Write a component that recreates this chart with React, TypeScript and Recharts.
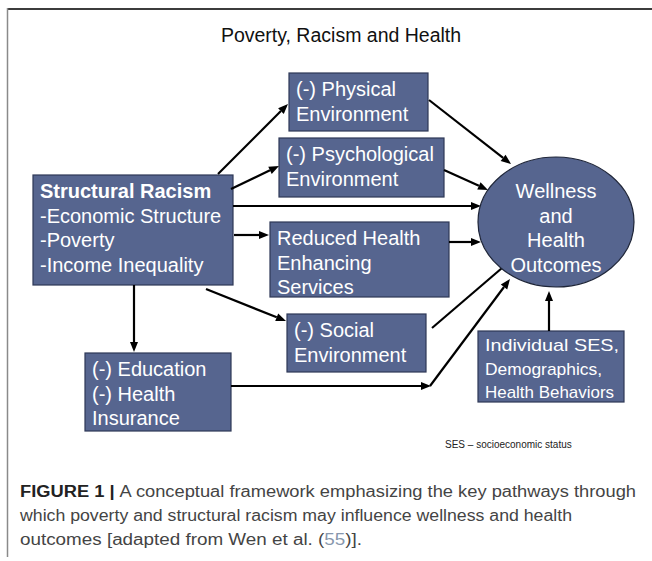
import React from "react";
import {
  ScatterChart,
  Scatter,
  XAxis,
  YAxis,
  ReferenceArea,
  ReferenceLine,
} from "recharts";

const W = 652;
const H = 561;

// box labels (white text on slate blue boxes)
const boxIds = ["physical", "psych", "racism", "services", "social", "education", "individual"];
const boxLines = [
  ["(-) Physical", "Environment"],
  ["(-) Psychological", "Environment"],
  ["Structural Racism", "-Economic Structure", "-Poverty", "-Income Inequality"],
  ["Reduced Health", "Enhancing", "Services"],
  ["(-) Social", "Environment"],
  ["(-) Education", "(-) Health", "Insurance"],
  ["Individual SES,", "Demographics,", "Health Behaviors"],
];
// box corners in diagram units [x1, x2, y1, y2]
const boxCorners = [
  [289, 428, 73, 131],
  [279, 444, 138, 197],
  [33, 233, 175, 285],
  [270, 449, 222, 297],
  [287, 426, 314, 372],
  [85, 231, 353, 431],
  [478, 624, 331, 402],
];
// the small-print box is set in a slightly different face; fit its line widths
const individualWidths = [134, 117, 129];

const outcomeLines = ["Wellness", "and", "Health", "Outcomes"];
const outcomeCenter = [{ x: 556, y: 222 }];

// arrows: [fromX, fromY, toX, toY, head]
const arrows = [
  [218, 174, 288, 104, 1],
  [231, 189, 279, 166, 1],
  [233, 206, 481, 206, 1],
  [234, 235, 269, 235, 1],
  [206, 289, 286, 321, 1],
  [134, 285, 134, 352, 1],
  [429, 100, 511, 164, 1],
  [444, 170, 488, 190, 1],
  [449, 242, 481, 242, 1],
  [432, 328, 502, 268, 0],
  [231, 386, 431, 386, 1],
  [430, 386, 510, 279, 1],
  [549, 331, 549, 291, 1],
];

const captionLines = [
  "A conceptual framework emphasizing the key pathways through",
  "which poverty and structural racism may influence wellness and health",
  "outcomes [adapted from Wen et al. (",
];

const BOX_FILL = "#56658f";
const BOX_STROKE = "#2e3856";
const FONT = "'Liberation Sans', Arial, sans-serif";

function boxShape(lines: string[], idx: number) {
  const big = idx !== 6;
  const fs = big ? 20 : 17;
  const lh = big ? 24.5 : 23.5;
  return (p: any) => (
    <g>
      <rect
        x={p.x}
        y={p.y}
        width={p.width}
        height={p.height}
        fill={BOX_FILL}
        stroke={BOX_STROKE}
        strokeWidth={1.2}
      />
      {lines.map((t, i) => (
        <text
          key={i}
          x={p.x + 7}
          y={p.y + fs + 3 + i * lh}
          fill="#fff"
          fontSize={fs}
          fontFamily={FONT}
          fontWeight={idx === 2 && i === 0 ? "bold" : "normal"}
          textLength={big ? undefined : individualWidths[i]}
          lengthAdjust={big ? undefined : "spacingAndGlyphs"}
        >
          {t}
        </text>
      ))}
    </g>
  );
}

function arrowShape(head: number) {
  return (p: any) => {
    const { x1, y1, x2, y2 } = p;
    const a = Math.atan2(y2 - y1, x2 - x1);
    const L = 10;
    const hw = 4;
    const bx = x2 - L * Math.cos(a);
    const by = y2 - L * Math.sin(a);
    const nx = -Math.sin(a);
    const ny = Math.cos(a);
    return (
      <g>
        <line
          x1={x1}
          y1={y1}
          x2={head ? bx : x2}
          y2={head ? by : y2}
          stroke="#000"
          strokeWidth={2.2}
        />
        {head ? (
          <polygon
            points={`${x2},${y2} ${bx + nx * hw},${by + ny * hw} ${bx - nx * hw},${by - ny * hw}`}
            fill="#000"
          />
        ) : null}
      </g>
    );
  };
}

function OutcomeShape(p: any) {
  const { cx, cy } = p;
  return (
    <g>
      <ellipse cx={cx} cy={cy} rx={78} ry={65} fill={BOX_FILL} stroke="#1e2538" strokeWidth={1.2} />
      {outcomeLines.map((t, i) => (
        <text
          key={i}
          x={cx}
          y={cy - 24 + i * 24.7}
          textAnchor="middle"
          fill="#fff"
          fontSize={20}
          fontFamily={FONT}
        >
          {t}
        </text>
      ))}
    </g>
  );
}

export default function App() {
  return (
    <div style={{ position: "absolute", left: 0, top: 0, width: W, height: H, background: "#fff" }}>
      <ScatterChart width={W} height={H} margin={{ top: 0, right: 0, bottom: 0, left: 0 }}>
        <XAxis type="number" dataKey="x" domain={[0, W]} hide allowDataOverflow />
        <YAxis type="number" dataKey="y" domain={[0, H]} reversed hide allowDataOverflow />
        {boxCorners.map((c, i) => (
          <ReferenceArea
            key={boxIds[i]}
            x1={c[0]}
            x2={c[1]}
            y1={c[2]}
            y2={c[3]}
            ifOverflow="visible"
            shape={boxShape(boxLines[i], i)}
          />
        ))}
        {arrows.map((a, i) => (
          <ReferenceLine
            key={i}
            segment={[
              { x: a[0], y: a[1] },
              { x: a[2], y: a[3] },
            ]}
            ifOverflow="visible"
            shape={arrowShape(a[4])}
          />
        ))}
        <Scatter data={outcomeCenter} shape={OutcomeShape} isAnimationActive={false} />
      </ScatterChart>
      <svg
        width={W}
        height={H}
        style={{ position: "absolute", left: 0, top: 0, pointerEvents: "none" }}
      >
        <line x1={7} y1={9} x2={W} y2={9} stroke="#3c3c3c" strokeWidth={2} />
        <line x1={7.5} y1={8} x2={7.5} y2={557} stroke="#8a8a8a" strokeWidth={1.5} />
        <text x={341} y={42} textAnchor="middle" fontSize={19.5} fontFamily={FONT} fill="#111">
          Poverty, Racism and Health
        </text>
        <text x={445} y={448} fontSize={10} fontFamily={FONT} fill="#222">
          SES – socioeconomic status
        </text>
        <text
          x={20}
          y={497}
          fontSize={16}
          fontFamily={FONT}
          fill="#444"
          textLength={616}
          lengthAdjust="spacingAndGlyphs"
        >
          <tspan fontWeight="bold" fill="#222">FIGURE 1 | </tspan>
          {captionLines[0]}
        </text>
        <text
          x={20}
          y={521}
          fontSize={16}
          fontFamily={FONT}
          fill="#444"
          textLength={552}
          lengthAdjust="spacingAndGlyphs"
        >
          {captionLines[1]}
        </text>
        <text
          x={20}
          y={545}
          fontSize={16}
          fontFamily={FONT}
          fill="#444"
          textLength={342}
          lengthAdjust="spacingAndGlyphs"
        >
          {captionLines[2]}
          <tspan fill="#8797ad">55</tspan>
          )].
        </text>
      </svg>
    </div>
  );
}
